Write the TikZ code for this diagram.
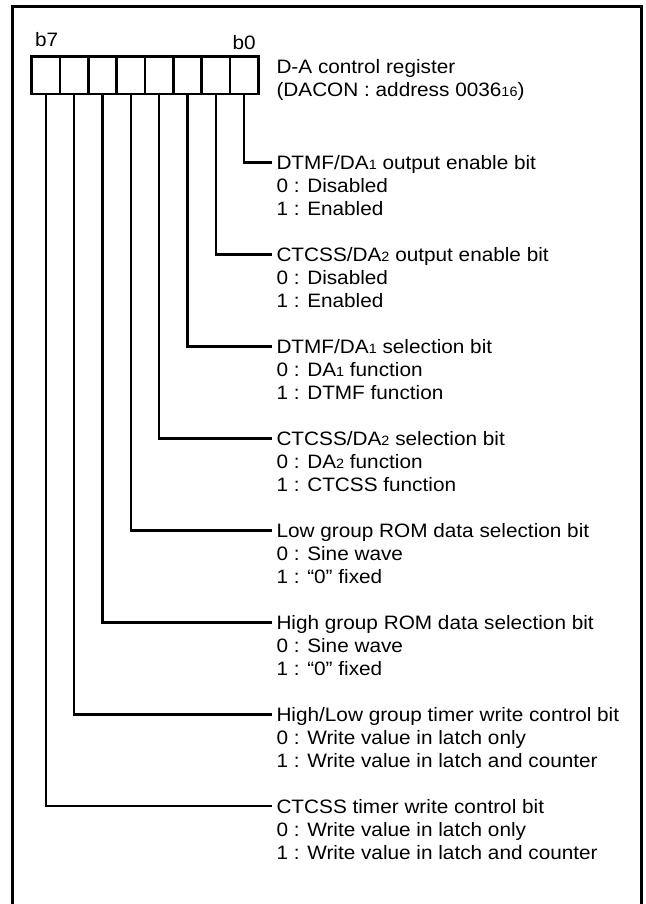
\documentclass[tikz,border=0pt]{standalone}
\usepackage{fontspec}
\setmainfont{Liberation Sans}[FakeStretch=1.07]
\newcommand\subdig[1]{{\fontsize{13.5}{13.5}\selectfont #1}}
\newcommand\blk[3]{\vtop{\baselineskip=23pt\hbox{#1}\hbox{#2}\hbox{#3}}}
\tikzset{
  cell/.style={draw, line width=2.6pt, minimum width=28.33pt, minimum height=37.5pt, inner sep=0pt, outer sep=0pt},
  lab/.style={inner sep=0pt, outer sep=0pt, anchor=base west, font=\fontsize{19.4}{23}\selectfont},
  conn/.style={line width=2.6pt},
}
\begin{document}
\begin{tikzpicture}[x=1pt, y=-1pt]
\useasboundingbox (0,0) rectangle (645,904);
% frame (open at bottom)
\draw[line width=2.6pt] (12.7,910) |- (641.7,6.7) -- (641.7,910);
% register cells, c7 leftmost ... c0 rightmost
\foreach \k in {0,...,7} {
  \node[cell] (c\k) at ({258.3-28.33*(\k+0.5)}, 75.2) {};
}
\node[lab] (lb7) at (35,47) {b7};
\node[lab] (lb0) at (232.5,50) {b0};
\node[lab] (title) at (276.5,73.3) {\vtop{\baselineskip=23pt\hbox{D-A control register}\hbox{(DACON : address 0036\subdig{16})}}};
% end coordinates for connectors
\foreach \k in {0,...,7} {
  \coordinate (e\k) at (272, {162.8+91.9*\k});
}
\node[lab] (t0) at ([shift={(4.5,7.2)}]e0) {\blk{DTMF/DA\subdig{1} output enable bit}{0 : Disabled}{1 : Enabled}};
\node[lab] (t1) at ([shift={(4.5,7.2)}]e1) {\blk{CTCSS/DA\subdig{2} output enable bit}{0 : Disabled}{1 : Enabled}};
\node[lab] (t2) at ([shift={(4.5,7.2)}]e2) {\blk{DTMF/DA\subdig{1} selection bit}{0 : DA\subdig{1} function}{1 : DTMF function}};
\node[lab] (t3) at ([shift={(4.5,7.2)}]e3) {\blk{CTCSS/DA\subdig{2} selection bit}{0 : DA\subdig{2} function}{1 : CTCSS function}};
\node[lab] (t4) at ([shift={(4.5,7.2)}]e4) {\blk{Low group ROM data selection bit}{0 : Sine wave}{1 : “0” fixed}};
\node[lab] (t5) at ([shift={(4.5,7.2)}]e5) {\blk{High group ROM data selection bit}{0 : Sine wave}{1 : “0” fixed}};
\node[lab] (t6) at ([shift={(4.5,7.2)}]e6) {\blk{High/Low group timer write control bit}{0 : Write value in latch only}{1 : Write value in latch and counter}};
\node[lab] (t7) at ([shift={(4.5,7.2)}]e7) {\blk{CTCSS timer write control bit}{0 : Write value in latch only}{1 : Write value in latch and counter}};
\foreach \k in {0,...,7} {
  \draw[conn] (c\k.south) |- (e\k);
}
\end{tikzpicture}
\end{document}
